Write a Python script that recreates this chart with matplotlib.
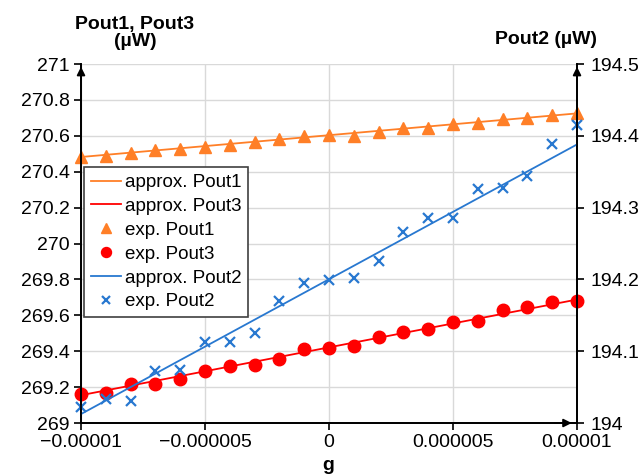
import matplotlib
matplotlib.use("Agg")
import matplotlib.pyplot as plt
from matplotlib.lines import Line2D
import numpy as np

plt.rcParams['font.family'] = ['Liberation Sans', 'DejaVu Sans']

# ---- data ----
g = [-1e-5, -9e-6, -8e-6, -7e-6, -6e-6, -5e-6, -4e-6, -3e-6, -2e-6, -1e-6, 0,
     1e-6, 2e-6, 3e-6, 4e-6, 5e-6, 6e-6, 7e-6, 8e-6, 9e-6, 1e-5]
exp_pout1 = [270.480, 270.487, 270.503, 270.521, 270.526, 270.539, 270.549, 270.564,
             270.581, 270.599, 270.604, 270.599, 270.619, 270.642, 270.645, 270.666,
             270.673, 270.692, 270.698, 270.716, 270.729]
exp_pout3 = [269.160, 269.165, 269.216, 269.217, 269.243, 269.291, 269.318, 269.323,
             269.357, 269.411, 269.420, 269.429, 269.481, 269.509, 269.524, 269.564,
             269.570, 269.630, 269.648, 269.676, 269.681]
exp_pout2 = [194.0227, 194.0330, 194.0311, 194.0728, 194.0738, 194.1124, 194.1124,
             194.1249, 194.1703, 194.1954, 194.1992, 194.2024, 194.2256, 194.2664,
             194.2859, 194.2859, 194.3255, 194.3269, 194.3440, 194.3882, 194.4150]
approx_g = [-1e-5, 1e-5]
approx_pout1 = [270.482, 270.725]
approx_pout3 = [269.155, 269.688]
approx_pout2 = [194.0125, 194.388]

xticks = [-1e-5, -5e-6, 0, 5e-6, 1e-5]
xticklabels = ["\u22120.00001", "\u22120.000005", "0", "0.000005", "0.00001"]
left_ticks = [269, 269.2, 269.4, 269.6, 269.8, 270, 270.2, 270.4, 270.6, 270.8, 271]
left_labels = ["269", "269.2", "269.4", "269.6", "269.8", "270", "270.2", "270.4",
               "270.6", "270.8", "271"]
right_ticks = [194, 194.1, 194.2, 194.3, 194.4, 194.5]
right_labels = ["194", "194.1", "194.2", "194.3", "194.4", "194.5"]

c_orange = '#FF7F27'
c_red = '#FF0000'
c_blue = '#2878D0'

fig = plt.figure(figsize=(6.44, 4.76), dpi=100)
ax = fig.add_axes([0.1258, 0.1113, 0.7702, 0.7542])
ax2 = ax.twinx()

ax.set_xlim(-1e-5, 1e-5)
ax.set_ylim(269, 271)
ax2.set_ylim(194, 194.5)

# grid
ax.set_xticks(xticks)
ax.set_xticklabels(xticklabels, fontsize=14)
ax.set_yticks(left_ticks)
ax.set_yticklabels(left_labels, fontsize=14)
ax2.set_yticks(right_ticks)
ax2.set_yticklabels(right_labels, fontsize=14)
ax.grid(True, color='#D9D9D9', linewidth=1.0)
ax.set_axisbelow(True)

ax.tick_params(axis='both', direction='out', length=5, width=1.2, color='black', pad=3)
ax2.tick_params(axis='y', direction='out', length=5, width=1.2, color='black', pad=5)

for a in (ax, ax2):
    a.spines['top'].set_visible(False)
    for s in ('left', 'right', 'bottom'):
        a.spines[s].set_linewidth(1.3)
        a.spines[s].set_color('black')

# lines
l1, = ax.plot(approx_g, approx_pout1, color=c_orange, lw=1.3, label='approx. Pout1')
l3, = ax.plot(approx_g, approx_pout3, color=c_red, lw=1.3, label='approx. Pout3')
m1, = ax.plot(g, exp_pout1, ls='none', marker='^', ms=9, color=c_orange, label='exp. Pout1', clip_on=False)
m3, = ax.plot(g, exp_pout3, ls='none', marker='o', ms=9, color=c_red, label='exp. Pout3', clip_on=False)
l2, = ax2.plot(approx_g, approx_pout2, color=c_blue, lw=1.3, label='approx. Pout2')
m2, = ax2.plot(g, exp_pout2, ls='none', marker='x', ms=7, mew=1.6, color=c_blue, label='exp. Pout2', clip_on=False)

leg = ax2.legend(handles=[l1, l3, m1, m3, l2, m2], loc='upper left',
                 bbox_to_anchor=(0.006, 0.712), borderaxespad=0, fontsize=13.5,
                 frameon=True, fancybox=False, framealpha=1, edgecolor='#404040',
                 handlelength=1.65, handletextpad=0.2, labelspacing=0.36,
                 borderpad=0.35, numpoints=1, markerscale=0.8)
leg.get_frame().set_linewidth(1.2)

# arrows on axes
ax2.annotate('', xy=(0, 1.0), xytext=(0, 0.95), xycoords='axes fraction',
             arrowprops=dict(arrowstyle='-|>', color='black', lw=1.3, mutation_scale=12))
ax2.annotate('', xy=(1, 1.0), xytext=(1, 0.95), xycoords='axes fraction',
             arrowprops=dict(arrowstyle='-|>', color='black', lw=1.3, mutation_scale=12))
ax2.annotate('', xy=(0.995, 0), xytext=(0.95, 0), xycoords='axes fraction',
             arrowprops=dict(arrowstyle='-|>', color='black', lw=1.3, mutation_scale=12))

# axis titles
fig.text(135 / 644, 1 - 33 / 476, "Pout1, Pout3\n(\u00b5W)", ha='center', va='center',
         fontsize=14, fontweight='bold', linespacing=1.0)
fig.text(546 / 644, 1 - 39 / 476, "Pout2 (\u00b5W)", ha='center', va='center',
         fontsize=14, fontweight='bold')
fig.text(328 / 644, 1 - 465 / 476, "g", ha='center', va='center',
         fontsize=14, fontweight='bold')

fig.savefig('out.png', dpi=100)
